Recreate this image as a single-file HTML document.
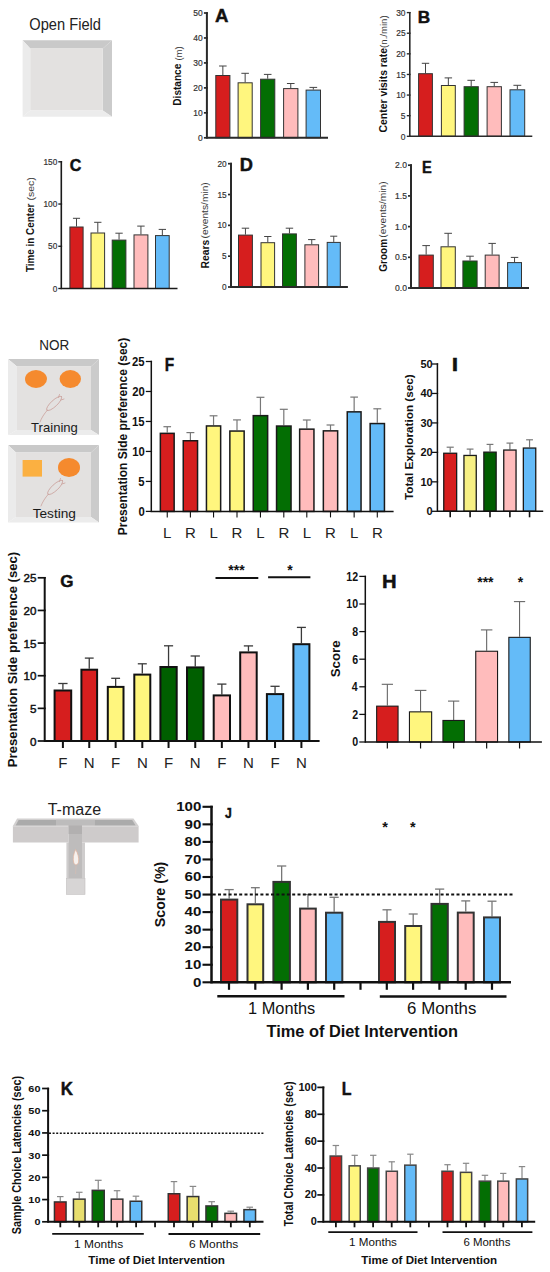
<!DOCTYPE html>
<html><head><meta charset="utf-8"><style>
html,body{margin:0;padding:0;background:#fff;}
body{width:550px;height:1272px;overflow:hidden;}
svg{display:block;font-family:"Liberation Sans",sans-serif;}
</style></head><body>
<svg width="550" height="1272" viewBox="0 0 550 1272">
<rect width="550" height="1272" fill="#fff"/>
<text x="29.31" y="30.00" font-size="15.8" font-weight="normal" fill="#222" textLength="71.63" lengthAdjust="spacingAndGlyphs">Open Field</text>
<polygon points="22.6,40.3 112,40.3 102.8,48.4 30.3,48.4" fill="#c9c9c9"/>
<polygon points="112,40.3 112,116.7 102.8,110.4 102.8,48.4" fill="#cbcbcb"/>
<polygon points="22.6,116.7 112,116.7 102.8,110.4 30.3,110.4" fill="#ececec"/>
<polygon points="22.6,40.3 30.3,48.4 30.3,110.4 22.6,116.7" fill="#ebebeb"/>
<rect x="30.3" y="48.4" width="72.5" height="62.00000000000001" fill="#e3e1e0"/>
<line x1="203.90" y1="137.80" x2="207.90" y2="137.80" stroke="#2a2a2a" stroke-width="1.7"/>
<text x="202.73" y="140.91" font-size="8.9" font-weight="normal" text-anchor="end" fill="#333" textLength="4.7" lengthAdjust="spacingAndGlyphs" stroke="#333" stroke-width="0.2">0</text>
<line x1="203.90" y1="112.84" x2="207.90" y2="112.84" stroke="#2a2a2a" stroke-width="1.7"/>
<text x="202.73" y="115.95" font-size="8.9" font-weight="normal" text-anchor="end" fill="#333" textLength="9.4" lengthAdjust="spacingAndGlyphs" stroke="#333" stroke-width="0.2">10</text>
<line x1="203.90" y1="87.88" x2="207.90" y2="87.88" stroke="#2a2a2a" stroke-width="1.7"/>
<text x="202.73" y="90.99" font-size="8.9" font-weight="normal" text-anchor="end" fill="#333" textLength="9.4" lengthAdjust="spacingAndGlyphs" stroke="#333" stroke-width="0.2">20</text>
<line x1="203.90" y1="62.92" x2="207.90" y2="62.92" stroke="#2a2a2a" stroke-width="1.7"/>
<text x="202.73" y="66.03" font-size="8.9" font-weight="normal" text-anchor="end" fill="#333" textLength="9.4" lengthAdjust="spacingAndGlyphs" stroke="#333" stroke-width="0.2">30</text>
<line x1="203.90" y1="37.96" x2="207.90" y2="37.96" stroke="#2a2a2a" stroke-width="1.7"/>
<text x="202.73" y="41.07" font-size="8.9" font-weight="normal" text-anchor="end" fill="#333" textLength="9.4" lengthAdjust="spacingAndGlyphs" stroke="#333" stroke-width="0.2">40</text>
<line x1="203.90" y1="13.00" x2="207.90" y2="13.00" stroke="#2a2a2a" stroke-width="1.7"/>
<text x="202.73" y="16.11" font-size="8.9" font-weight="normal" text-anchor="end" fill="#333" textLength="9.4" lengthAdjust="spacingAndGlyphs" stroke="#333" stroke-width="0.2">50</text>
<line x1="222.85" y1="75.00" x2="222.85" y2="66.00" stroke="#444" stroke-width="1"/>
<line x1="219.08" y1="66.00" x2="226.63" y2="66.00" stroke="#444" stroke-width="1"/>
<rect x="215.80" y="75.50" width="14.10" height="62.30" fill="#d61e1e" stroke="#333" stroke-width="1"/>
<line x1="245.15" y1="82.30" x2="245.15" y2="73.30" stroke="#444" stroke-width="1"/>
<line x1="241.37" y1="73.30" x2="248.92" y2="73.30" stroke="#444" stroke-width="1"/>
<rect x="238.10" y="82.80" width="14.10" height="55.00" fill="#fff67e" stroke="#333" stroke-width="1"/>
<line x1="267.70" y1="78.70" x2="267.70" y2="74.40" stroke="#444" stroke-width="1"/>
<line x1="263.90" y1="74.40" x2="271.50" y2="74.40" stroke="#444" stroke-width="1"/>
<rect x="260.60" y="79.20" width="14.20" height="58.60" fill="#036e03" stroke="#333" stroke-width="1"/>
<line x1="290.75" y1="88.10" x2="290.75" y2="83.50" stroke="#444" stroke-width="1"/>
<line x1="286.93" y1="83.50" x2="294.57" y2="83.50" stroke="#444" stroke-width="1"/>
<rect x="283.60" y="88.60" width="14.30" height="49.20" fill="#ffbcbc" stroke="#333" stroke-width="1"/>
<line x1="313.30" y1="89.60" x2="313.30" y2="87.40" stroke="#444" stroke-width="1"/>
<line x1="309.45" y1="87.40" x2="317.15" y2="87.40" stroke="#444" stroke-width="1"/>
<rect x="306.10" y="90.10" width="14.40" height="47.70" fill="#64bbf8" stroke="#333" stroke-width="1"/>
<path d="M206.90,12.15 V137.80 H328.00" fill="none" stroke="#2a2a2a" stroke-width="2" stroke-linecap="butt" stroke-linejoin="miter"/>
<text transform="translate(181.40,105.68) rotate(-90)" font-size="10.6" font-weight="bold" fill="#111" textLength="42.02" lengthAdjust="spacingAndGlyphs">Distance</text>
<text transform="translate(181.60,60.59) rotate(-90)" font-size="9.1" font-weight="normal" fill="#3a3a3a" textLength="14.17" lengthAdjust="spacingAndGlyphs">(m)</text>
<text x="215.03" y="21.90" font-size="19.2" font-weight="bold" fill="#111" textLength="13.45" lengthAdjust="spacingAndGlyphs" stroke="#111" stroke-width="0.45">A</text>
<line x1="406.80" y1="136.30" x2="410.60" y2="136.30" stroke="#2a2a2a" stroke-width="1.36"/>
<text x="405.53" y="139.55" font-size="9.3" font-weight="normal" text-anchor="end" fill="#333" textLength="4.7" lengthAdjust="spacingAndGlyphs" stroke="#333" stroke-width="0.2">0</text>
<line x1="406.80" y1="115.68" x2="410.60" y2="115.68" stroke="#2a2a2a" stroke-width="1.36"/>
<text x="405.55" y="118.93" font-size="9.3" font-weight="normal" text-anchor="end" fill="#333" textLength="4.7" lengthAdjust="spacingAndGlyphs" stroke="#333" stroke-width="0.2">5</text>
<line x1="406.80" y1="95.07" x2="410.60" y2="95.07" stroke="#2a2a2a" stroke-width="1.36"/>
<text x="405.53" y="98.31" font-size="9.3" font-weight="normal" text-anchor="end" fill="#333" textLength="9.3" lengthAdjust="spacingAndGlyphs" stroke="#333" stroke-width="0.2">10</text>
<line x1="406.80" y1="74.45" x2="410.60" y2="74.45" stroke="#2a2a2a" stroke-width="1.36"/>
<text x="405.55" y="77.70" font-size="9.3" font-weight="normal" text-anchor="end" fill="#333" textLength="9.3" lengthAdjust="spacingAndGlyphs" stroke="#333" stroke-width="0.2">15</text>
<line x1="406.80" y1="53.83" x2="410.60" y2="53.83" stroke="#2a2a2a" stroke-width="1.36"/>
<text x="405.53" y="57.08" font-size="9.3" font-weight="normal" text-anchor="end" fill="#333" textLength="9.3" lengthAdjust="spacingAndGlyphs" stroke="#333" stroke-width="0.2">20</text>
<line x1="406.80" y1="33.22" x2="410.60" y2="33.22" stroke="#2a2a2a" stroke-width="1.36"/>
<text x="405.55" y="36.46" font-size="9.3" font-weight="normal" text-anchor="end" fill="#333" textLength="9.3" lengthAdjust="spacingAndGlyphs" stroke="#333" stroke-width="0.2">25</text>
<line x1="406.80" y1="12.60" x2="410.60" y2="12.60" stroke="#2a2a2a" stroke-width="1.36"/>
<text x="405.53" y="15.85" font-size="9.3" font-weight="normal" text-anchor="end" fill="#333" textLength="9.3" lengthAdjust="spacingAndGlyphs" stroke="#333" stroke-width="0.2">30</text>
<line x1="425.50" y1="73.20" x2="425.50" y2="63.30" stroke="#444" stroke-width="1"/>
<line x1="421.80" y1="63.30" x2="429.20" y2="63.30" stroke="#444" stroke-width="1"/>
<rect x="418.60" y="73.70" width="13.80" height="62.60" fill="#d61e1e" stroke="#333" stroke-width="1"/>
<line x1="448.35" y1="85.00" x2="448.35" y2="77.90" stroke="#444" stroke-width="1"/>
<line x1="444.62" y1="77.90" x2="452.08" y2="77.90" stroke="#444" stroke-width="1"/>
<rect x="441.40" y="85.50" width="13.90" height="50.80" fill="#fff67e" stroke="#333" stroke-width="1"/>
<line x1="471.20" y1="86.20" x2="471.20" y2="80.30" stroke="#444" stroke-width="1"/>
<line x1="467.40" y1="80.30" x2="475.00" y2="80.30" stroke="#444" stroke-width="1"/>
<rect x="464.10" y="86.70" width="14.20" height="49.60" fill="#036e03" stroke="#333" stroke-width="1"/>
<line x1="494.25" y1="86.20" x2="494.25" y2="82.40" stroke="#444" stroke-width="1"/>
<line x1="490.43" y1="82.40" x2="498.07" y2="82.40" stroke="#444" stroke-width="1"/>
<rect x="487.10" y="86.70" width="14.30" height="49.60" fill="#ffbcbc" stroke="#333" stroke-width="1"/>
<line x1="517.35" y1="89.30" x2="517.35" y2="85.30" stroke="#444" stroke-width="1"/>
<line x1="513.42" y1="85.30" x2="521.28" y2="85.30" stroke="#444" stroke-width="1"/>
<rect x="510.00" y="89.80" width="14.70" height="46.50" fill="#64bbf8" stroke="#333" stroke-width="1"/>
<path d="M409.80,11.92 V136.30 H532.30" fill="none" stroke="#2a2a2a" stroke-width="1.6" stroke-linecap="butt" stroke-linejoin="miter"/>
<text transform="translate(387.40,132.43) rotate(-90)" font-size="10.2" font-weight="bold" fill="#111" textLength="84.38" lengthAdjust="spacingAndGlyphs">Center visits rate</text>
<text transform="translate(386.60,47.89) rotate(-90)" font-size="8.4" font-weight="normal" fill="#3a3a3a" textLength="32.49" lengthAdjust="spacingAndGlyphs">(n./min)</text>
<text x="417.85" y="23.00" font-size="16.6" font-weight="bold" fill="#111" textLength="12.43" lengthAdjust="spacingAndGlyphs" stroke="#111" stroke-width="0.45">B</text>
<line x1="58.30" y1="288.50" x2="62.10" y2="288.50" stroke="#1a1a1a" stroke-width="1.36"/>
<text x="57.32" y="291.64" font-size="9" font-weight="normal" text-anchor="end" fill="#333" textLength="4.6" lengthAdjust="spacingAndGlyphs" stroke="#333" stroke-width="0.2">0</text>
<line x1="58.30" y1="246.27" x2="62.10" y2="246.27" stroke="#1a1a1a" stroke-width="1.36"/>
<text x="57.32" y="249.41" font-size="9" font-weight="normal" text-anchor="end" fill="#333" textLength="9.2" lengthAdjust="spacingAndGlyphs" stroke="#333" stroke-width="0.2">50</text>
<line x1="58.30" y1="204.03" x2="62.10" y2="204.03" stroke="#1a1a1a" stroke-width="1.36"/>
<text x="57.32" y="207.17" font-size="9" font-weight="normal" text-anchor="end" fill="#333" textLength="13.8" lengthAdjust="spacingAndGlyphs" stroke="#333" stroke-width="0.2">100</text>
<line x1="58.30" y1="161.80" x2="62.10" y2="161.80" stroke="#1a1a1a" stroke-width="1.36"/>
<text x="57.32" y="164.94" font-size="9" font-weight="normal" text-anchor="end" fill="#333" textLength="13.8" lengthAdjust="spacingAndGlyphs" stroke="#333" stroke-width="0.2">150</text>
<line x1="76.50" y1="226.50" x2="76.50" y2="218.30" stroke="#444" stroke-width="1"/>
<line x1="72.95" y1="218.30" x2="80.05" y2="218.30" stroke="#444" stroke-width="1"/>
<rect x="69.90" y="227.00" width="13.20" height="61.50" fill="#d61e1e" stroke="#333" stroke-width="1"/>
<line x1="97.80" y1="232.50" x2="97.80" y2="222.30" stroke="#444" stroke-width="1"/>
<line x1="94.15" y1="222.30" x2="101.45" y2="222.30" stroke="#444" stroke-width="1"/>
<rect x="91.00" y="233.00" width="13.60" height="55.50" fill="#fff67e" stroke="#333" stroke-width="1"/>
<line x1="119.05" y1="239.60" x2="119.05" y2="233.20" stroke="#444" stroke-width="1"/>
<line x1="115.38" y1="233.20" x2="122.73" y2="233.20" stroke="#444" stroke-width="1"/>
<rect x="112.20" y="240.10" width="13.70" height="48.40" fill="#036e03" stroke="#333" stroke-width="1"/>
<line x1="140.95" y1="234.40" x2="140.95" y2="226.10" stroke="#444" stroke-width="1"/>
<line x1="137.22" y1="226.10" x2="144.67" y2="226.10" stroke="#444" stroke-width="1"/>
<rect x="134.00" y="234.90" width="13.90" height="53.60" fill="#ffbcbc" stroke="#333" stroke-width="1"/>
<line x1="162.35" y1="235.10" x2="162.35" y2="229.40" stroke="#444" stroke-width="1"/>
<line x1="158.68" y1="229.40" x2="166.02" y2="229.40" stroke="#444" stroke-width="1"/>
<rect x="155.50" y="235.60" width="13.70" height="52.90" fill="#64bbf8" stroke="#333" stroke-width="1"/>
<path d="M61.30,161.12 V288.50 H177.50" fill="none" stroke="#1a1a1a" stroke-width="1.6" stroke-linecap="butt" stroke-linejoin="miter"/>
<text transform="translate(34.30,272.11) rotate(-90)" font-size="11.3" font-weight="bold" fill="#111" textLength="68.56" lengthAdjust="spacingAndGlyphs">Time in Center</text>
<text transform="translate(34.20,200.45) rotate(-90)" font-size="8.8" font-weight="normal" fill="#3a3a3a" textLength="23.30" lengthAdjust="spacingAndGlyphs">(sec)</text>
<text x="69.74" y="170.60" font-size="16" font-weight="bold" fill="#111" textLength="11.59" lengthAdjust="spacingAndGlyphs" stroke="#111" stroke-width="0.45">C</text>
<line x1="228.00" y1="287.00" x2="232.00" y2="287.00" stroke="#2a2a2a" stroke-width="1.7"/>
<text x="226.62" y="290.14" font-size="9" font-weight="normal" text-anchor="end" fill="#333" textLength="4.6" lengthAdjust="spacingAndGlyphs" stroke="#333" stroke-width="0.2">0</text>
<line x1="228.00" y1="256.18" x2="232.00" y2="256.18" stroke="#2a2a2a" stroke-width="1.7"/>
<text x="226.65" y="259.32" font-size="9" font-weight="normal" text-anchor="end" fill="#333" textLength="4.6" lengthAdjust="spacingAndGlyphs" stroke="#333" stroke-width="0.2">5</text>
<line x1="228.00" y1="225.35" x2="232.00" y2="225.35" stroke="#2a2a2a" stroke-width="1.7"/>
<text x="226.62" y="228.49" font-size="9" font-weight="normal" text-anchor="end" fill="#333" textLength="9.2" lengthAdjust="spacingAndGlyphs" stroke="#333" stroke-width="0.2">10</text>
<line x1="228.00" y1="194.52" x2="232.00" y2="194.52" stroke="#2a2a2a" stroke-width="1.7"/>
<text x="226.65" y="197.67" font-size="9" font-weight="normal" text-anchor="end" fill="#333" textLength="9.2" lengthAdjust="spacingAndGlyphs" stroke="#333" stroke-width="0.2">15</text>
<line x1="228.00" y1="163.70" x2="232.00" y2="163.70" stroke="#2a2a2a" stroke-width="1.7"/>
<text x="226.62" y="166.84" font-size="9" font-weight="normal" text-anchor="end" fill="#333" textLength="9.2" lengthAdjust="spacingAndGlyphs" stroke="#333" stroke-width="0.2">20</text>
<line x1="245.45" y1="234.60" x2="245.45" y2="228.20" stroke="#444" stroke-width="1"/>
<line x1="241.72" y1="228.20" x2="249.17" y2="228.20" stroke="#444" stroke-width="1"/>
<rect x="238.50" y="235.10" width="13.90" height="51.90" fill="#d61e1e" stroke="#333" stroke-width="1"/>
<line x1="267.80" y1="242.20" x2="267.80" y2="236.50" stroke="#444" stroke-width="1"/>
<line x1="264.15" y1="236.50" x2="271.45" y2="236.50" stroke="#444" stroke-width="1"/>
<rect x="261.00" y="242.70" width="13.60" height="44.30" fill="#fff67e" stroke="#333" stroke-width="1"/>
<line x1="289.45" y1="233.40" x2="289.45" y2="228.20" stroke="#444" stroke-width="1"/>
<line x1="285.73" y1="228.20" x2="293.17" y2="228.20" stroke="#444" stroke-width="1"/>
<rect x="282.50" y="233.90" width="13.90" height="53.10" fill="#036e03" stroke="#333" stroke-width="1"/>
<line x1="311.75" y1="244.30" x2="311.75" y2="239.60" stroke="#444" stroke-width="1"/>
<line x1="308.07" y1="239.60" x2="315.43" y2="239.60" stroke="#444" stroke-width="1"/>
<rect x="304.90" y="244.80" width="13.70" height="42.20" fill="#ffbcbc" stroke="#333" stroke-width="1"/>
<line x1="333.75" y1="241.90" x2="333.75" y2="236.20" stroke="#444" stroke-width="1"/>
<line x1="330.23" y1="236.20" x2="337.27" y2="236.20" stroke="#444" stroke-width="1"/>
<rect x="327.20" y="242.40" width="13.10" height="44.60" fill="#64bbf8" stroke="#333" stroke-width="1"/>
<path d="M231.00,162.85 V287.00 H347.90" fill="none" stroke="#2a2a2a" stroke-width="2" stroke-linecap="butt" stroke-linejoin="miter"/>
<text transform="translate(209.10,268.39) rotate(-90)" font-size="10.8" font-weight="bold" fill="#111" textLength="28.61" lengthAdjust="spacingAndGlyphs">Rears</text>
<text transform="translate(208.20,238.43) rotate(-90)" font-size="8.2" font-weight="normal" fill="#3a3a3a" textLength="56.17" lengthAdjust="spacingAndGlyphs">(events/min)</text>
<text x="239.68" y="170.70" font-size="17.6" font-weight="bold" fill="#111" textLength="13.19" lengthAdjust="spacingAndGlyphs" stroke="#111" stroke-width="0.45">D</text>
<line x1="408.00" y1="288.00" x2="412.00" y2="288.00" stroke="#2a2a2a" stroke-width="1.7"/>
<text x="406.93" y="291.14" font-size="9" font-weight="normal" text-anchor="end" fill="#333" textLength="11.9" lengthAdjust="spacingAndGlyphs" stroke="#333" stroke-width="0.2">0.0</text>
<line x1="408.00" y1="257.30" x2="412.00" y2="257.30" stroke="#2a2a2a" stroke-width="1.7"/>
<text x="406.96" y="260.44" font-size="9" font-weight="normal" text-anchor="end" fill="#333" textLength="11.9" lengthAdjust="spacingAndGlyphs" stroke="#333" stroke-width="0.2">0.5</text>
<line x1="408.00" y1="226.60" x2="412.00" y2="226.60" stroke="#2a2a2a" stroke-width="1.7"/>
<text x="406.93" y="229.74" font-size="9" font-weight="normal" text-anchor="end" fill="#333" textLength="11.9" lengthAdjust="spacingAndGlyphs" stroke="#333" stroke-width="0.2">1.0</text>
<line x1="408.00" y1="195.90" x2="412.00" y2="195.90" stroke="#2a2a2a" stroke-width="1.7"/>
<text x="406.96" y="199.04" font-size="9" font-weight="normal" text-anchor="end" fill="#333" textLength="11.9" lengthAdjust="spacingAndGlyphs" stroke="#333" stroke-width="0.2">1.5</text>
<line x1="408.00" y1="165.20" x2="412.00" y2="165.20" stroke="#2a2a2a" stroke-width="1.7"/>
<text x="406.93" y="168.34" font-size="9" font-weight="normal" text-anchor="end" fill="#333" textLength="11.9" lengthAdjust="spacingAndGlyphs" stroke="#333" stroke-width="0.2">2.0</text>
<line x1="426.15" y1="254.60" x2="426.15" y2="245.60" stroke="#444" stroke-width="1"/>
<line x1="422.32" y1="245.60" x2="429.97" y2="245.60" stroke="#444" stroke-width="1"/>
<rect x="419.00" y="255.10" width="14.30" height="32.90" fill="#d61e1e" stroke="#333" stroke-width="1"/>
<line x1="448.15" y1="246.30" x2="448.15" y2="233.30" stroke="#444" stroke-width="1"/>
<line x1="444.32" y1="233.30" x2="451.97" y2="233.30" stroke="#444" stroke-width="1"/>
<rect x="441.00" y="246.80" width="14.30" height="41.20" fill="#fff67e" stroke="#333" stroke-width="1"/>
<line x1="470.00" y1="260.50" x2="470.00" y2="256.20" stroke="#444" stroke-width="1"/>
<line x1="466.20" y1="256.20" x2="473.80" y2="256.20" stroke="#444" stroke-width="1"/>
<rect x="462.90" y="261.00" width="14.20" height="27.00" fill="#036e03" stroke="#333" stroke-width="1"/>
<line x1="492.15" y1="254.60" x2="492.15" y2="243.40" stroke="#444" stroke-width="1"/>
<line x1="488.42" y1="243.40" x2="495.88" y2="243.40" stroke="#444" stroke-width="1"/>
<rect x="485.20" y="255.10" width="13.90" height="32.90" fill="#ffbcbc" stroke="#333" stroke-width="1"/>
<line x1="514.55" y1="262.10" x2="514.55" y2="257.40" stroke="#444" stroke-width="1"/>
<line x1="510.82" y1="257.40" x2="518.27" y2="257.40" stroke="#444" stroke-width="1"/>
<rect x="507.60" y="262.60" width="13.90" height="25.40" fill="#64bbf8" stroke="#333" stroke-width="1"/>
<path d="M411.00,164.35 V288.00 H529.00" fill="none" stroke="#2a2a2a" stroke-width="2" stroke-linecap="butt" stroke-linejoin="miter"/>
<text transform="translate(386.60,271.71) rotate(-90)" font-size="10.5" font-weight="bold" fill="#111" textLength="32.83" lengthAdjust="spacingAndGlyphs">Groom</text>
<text transform="translate(386.20,237.63) rotate(-90)" font-size="8.9" font-weight="normal" fill="#3a3a3a" textLength="56.27" lengthAdjust="spacingAndGlyphs">(events/min)</text>
<text x="421.92" y="172.50" font-size="17" font-weight="bold" fill="#111" textLength="9.75" lengthAdjust="spacingAndGlyphs" stroke="#111" stroke-width="0.45">E</text>
<text x="39.29" y="350.40" font-size="14" font-weight="normal" fill="#222" textLength="30.03" lengthAdjust="spacingAndGlyphs">NOR</text>
<polygon points="8,359 99,359 91,366.5 17,366.5" fill="#c9c9c9"/>
<polygon points="99,359 99,435 91,430 91,366.5" fill="#cbcbcb"/>
<polygon points="8,435 99,435 91,430 17,430" fill="#ececec"/>
<polygon points="8,359 17,366.5 17,430 8,435" fill="#ebebeb"/>
<rect x="17" y="366.5" width="74" height="63.5" fill="#e3e1e0"/>
<ellipse cx="36" cy="379" rx="11" ry="9" fill="#f58a2e"/>
<ellipse cx="70.3" cy="379" rx="10.7" ry="9" fill="#f58a2e"/>
<g transform="translate(40,422) scale(1.0)" fill="none" stroke="#c99d98" stroke-width="0.75" stroke-linecap="round"><path d="M0,0 C1.5,-4 4,-8 7.5,-12"/><ellipse cx="14.2" cy="-18.6" rx="10" ry="3.1" transform="rotate(-43 14.2 -18.6)"/><path d="M18.5,-24.5 L19.5,-27.5 M21,-22 L24,-23"/></g>
<text x="31.11" y="432.30" font-size="12.8" font-weight="normal" fill="#1a1a1a" textLength="46.73" lengthAdjust="spacingAndGlyphs">Training</text>
<polygon points="8,445 99,445 91,452.6 16,452.6" fill="#c9c9c9"/>
<polygon points="99,445 99,522.6 91,517 91,452.6" fill="#cbcbcb"/>
<polygon points="8,522.6 99,522.6 91,517 16,517" fill="#ececec"/>
<polygon points="8,445 16,452.6 16,517 8,522.6" fill="#ebebeb"/>
<rect x="16" y="452.6" width="75" height="64.39999999999998" fill="#e3e1e0"/>
<rect x="22.60" y="460.00" width="19.40" height="16.60" fill="#fbb041"/>
<ellipse cx="69" cy="467.5" rx="11" ry="9.5" fill="#f58a2e"/>
<g transform="translate(41,506) scale(1.0)" fill="none" stroke="#c99d98" stroke-width="0.75" stroke-linecap="round"><path d="M0,0 C1.5,-4 4,-8 7.5,-12"/><ellipse cx="14.2" cy="-18.6" rx="10" ry="3.1" transform="rotate(-43 14.2 -18.6)"/><path d="M18.5,-24.5 L19.5,-27.5 M21,-22 L24,-23"/></g>
<text x="32.70" y="518.30" font-size="13.2" font-weight="normal" fill="#1a1a1a" textLength="43.17" lengthAdjust="spacingAndGlyphs">Testing</text>
<line x1="145.80" y1="511.40" x2="152.05" y2="511.40" stroke="#111" stroke-width="1.275"/>
<text x="144.77" y="515.55" font-size="11.9" font-weight="bold" text-anchor="end" fill="#111" textLength="6.3" lengthAdjust="spacingAndGlyphs">0</text>
<line x1="145.80" y1="481.42" x2="152.05" y2="481.42" stroke="#111" stroke-width="1.275"/>
<text x="144.62" y="485.57" font-size="11.9" font-weight="bold" text-anchor="end" fill="#111" textLength="6.3" lengthAdjust="spacingAndGlyphs">5</text>
<line x1="145.80" y1="451.44" x2="152.05" y2="451.44" stroke="#111" stroke-width="1.275"/>
<text x="144.77" y="455.59" font-size="11.9" font-weight="bold" text-anchor="end" fill="#111" textLength="12.6" lengthAdjust="spacingAndGlyphs">10</text>
<line x1="145.80" y1="421.46" x2="152.05" y2="421.46" stroke="#111" stroke-width="1.275"/>
<text x="144.62" y="425.61" font-size="11.9" font-weight="bold" text-anchor="end" fill="#111" textLength="12.6" lengthAdjust="spacingAndGlyphs">15</text>
<line x1="145.80" y1="391.48" x2="152.05" y2="391.48" stroke="#111" stroke-width="1.275"/>
<text x="144.77" y="395.63" font-size="11.9" font-weight="bold" text-anchor="end" fill="#111" textLength="12.6" lengthAdjust="spacingAndGlyphs">20</text>
<line x1="145.80" y1="361.50" x2="152.05" y2="361.50" stroke="#111" stroke-width="1.275"/>
<text x="144.62" y="365.65" font-size="11.9" font-weight="bold" text-anchor="end" fill="#111" textLength="12.6" lengthAdjust="spacingAndGlyphs">25</text>
<line x1="167.25" y1="432.60" x2="167.25" y2="426.70" stroke="#777" stroke-width="1.2"/>
<line x1="163.43" y1="426.70" x2="171.07" y2="426.70" stroke="#777" stroke-width="1.2"/>
<rect x="160.35" y="433.35" width="13.80" height="78.05" fill="#d61e1e" stroke="#1a1a1a" stroke-width="1.5"/>
<line x1="190.40" y1="440.00" x2="190.40" y2="432.60" stroke="#777" stroke-width="1.2"/>
<line x1="186.45" y1="432.60" x2="194.35" y2="432.60" stroke="#777" stroke-width="1.2"/>
<rect x="183.25" y="440.75" width="14.30" height="70.65" fill="#d61e1e" stroke="#1a1a1a" stroke-width="1.5"/>
<line x1="213.55" y1="425.20" x2="213.55" y2="415.80" stroke="#777" stroke-width="1.2"/>
<line x1="209.62" y1="415.80" x2="217.48" y2="415.80" stroke="#777" stroke-width="1.2"/>
<rect x="206.45" y="425.95" width="14.20" height="85.45" fill="#fff67e" stroke="#1a1a1a" stroke-width="1.5"/>
<line x1="237.00" y1="430.30" x2="237.00" y2="419.90" stroke="#777" stroke-width="1.2"/>
<line x1="233.05" y1="419.90" x2="240.95" y2="419.90" stroke="#777" stroke-width="1.2"/>
<rect x="229.85" y="431.05" width="14.30" height="80.35" fill="#fff67e" stroke="#1a1a1a" stroke-width="1.5"/>
<line x1="260.45" y1="414.90" x2="260.45" y2="397.30" stroke="#777" stroke-width="1.2"/>
<line x1="256.48" y1="397.30" x2="264.42" y2="397.30" stroke="#777" stroke-width="1.2"/>
<rect x="253.25" y="415.65" width="14.40" height="95.75" fill="#036e03" stroke="#1a1a1a" stroke-width="1.5"/>
<line x1="283.80" y1="425.30" x2="283.80" y2="409.30" stroke="#777" stroke-width="1.2"/>
<line x1="279.80" y1="409.30" x2="287.80" y2="409.30" stroke="#777" stroke-width="1.2"/>
<rect x="276.55" y="426.05" width="14.50" height="85.35" fill="#036e03" stroke="#1a1a1a" stroke-width="1.5"/>
<line x1="306.80" y1="428.40" x2="306.80" y2="420.00" stroke="#777" stroke-width="1.2"/>
<line x1="302.85" y1="420.00" x2="310.75" y2="420.00" stroke="#777" stroke-width="1.2"/>
<rect x="299.65" y="429.15" width="14.30" height="82.25" fill="#ffbcbc" stroke="#1a1a1a" stroke-width="1.5"/>
<line x1="330.50" y1="430.10" x2="330.50" y2="425.00" stroke="#777" stroke-width="1.2"/>
<line x1="326.55" y1="425.00" x2="334.45" y2="425.00" stroke="#777" stroke-width="1.2"/>
<rect x="323.35" y="430.85" width="14.30" height="80.55" fill="#ffbcbc" stroke="#1a1a1a" stroke-width="1.5"/>
<line x1="354.15" y1="411.10" x2="354.15" y2="397.10" stroke="#777" stroke-width="1.2"/>
<line x1="350.32" y1="397.10" x2="357.97" y2="397.10" stroke="#777" stroke-width="1.2"/>
<rect x="347.25" y="411.85" width="13.80" height="99.55" fill="#64bbf8" stroke="#1a1a1a" stroke-width="1.5"/>
<line x1="377.30" y1="422.80" x2="377.30" y2="408.80" stroke="#777" stroke-width="1.2"/>
<line x1="373.35" y1="408.80" x2="381.25" y2="408.80" stroke="#777" stroke-width="1.2"/>
<rect x="370.15" y="423.55" width="14.30" height="87.85" fill="#64bbf8" stroke="#1a1a1a" stroke-width="1.5"/>
<line x1="167.25" y1="511.40" x2="167.25" y2="517.40" stroke="#111" stroke-width="1.1"/>
<line x1="190.40" y1="511.40" x2="190.40" y2="517.40" stroke="#111" stroke-width="1.1"/>
<line x1="213.55" y1="511.40" x2="213.55" y2="517.40" stroke="#111" stroke-width="1.1"/>
<line x1="237.00" y1="511.40" x2="237.00" y2="517.40" stroke="#111" stroke-width="1.1"/>
<line x1="260.45" y1="511.40" x2="260.45" y2="517.40" stroke="#111" stroke-width="1.1"/>
<line x1="283.80" y1="511.40" x2="283.80" y2="517.40" stroke="#111" stroke-width="1.1"/>
<line x1="306.80" y1="511.40" x2="306.80" y2="517.40" stroke="#111" stroke-width="1.1"/>
<line x1="330.50" y1="511.40" x2="330.50" y2="517.40" stroke="#111" stroke-width="1.1"/>
<line x1="354.15" y1="511.40" x2="354.15" y2="517.40" stroke="#111" stroke-width="1.1"/>
<line x1="377.30" y1="511.40" x2="377.30" y2="517.40" stroke="#111" stroke-width="1.1"/>
<path d="M151.30,360.86 V511.40 H393.60" fill="none" stroke="#111" stroke-width="1.5" stroke-linecap="butt" stroke-linejoin="miter"/>
<text x="167.25" y="537.80" font-size="15" font-weight="normal" text-anchor="middle" fill="#222">L</text>
<text x="190.40" y="537.80" font-size="15" font-weight="normal" text-anchor="middle" fill="#222">R</text>
<text x="213.55" y="537.80" font-size="15" font-weight="normal" text-anchor="middle" fill="#222">L</text>
<text x="237.00" y="537.80" font-size="15" font-weight="normal" text-anchor="middle" fill="#222">R</text>
<text x="260.45" y="537.80" font-size="15" font-weight="normal" text-anchor="middle" fill="#222">L</text>
<text x="283.80" y="537.80" font-size="15" font-weight="normal" text-anchor="middle" fill="#222">R</text>
<text x="306.80" y="537.80" font-size="15" font-weight="normal" text-anchor="middle" fill="#222">L</text>
<text x="330.50" y="537.80" font-size="15" font-weight="normal" text-anchor="middle" fill="#222">R</text>
<text x="354.15" y="537.80" font-size="15" font-weight="normal" text-anchor="middle" fill="#222">L</text>
<text x="377.30" y="537.80" font-size="15" font-weight="normal" text-anchor="middle" fill="#222">R</text>
<text transform="translate(127.30,535.30) rotate(-90)" font-size="12.6" font-weight="bold" fill="#111" textLength="197.61" lengthAdjust="spacingAndGlyphs">Presentation Side preference (sec)</text>
<text x="164.87" y="371.30" font-size="18" font-weight="bold" fill="#111" textLength="9.40" lengthAdjust="spacingAndGlyphs" stroke="#111" stroke-width="0.45">F</text>
<line x1="431.90" y1="511.30" x2="438.15" y2="511.30" stroke="#111" stroke-width="1.275"/>
<text x="432.65" y="515.31" font-size="11.5" font-weight="bold" text-anchor="end" fill="#111" textLength="6.1" lengthAdjust="spacingAndGlyphs">0</text>
<line x1="431.90" y1="481.84" x2="438.15" y2="481.84" stroke="#111" stroke-width="1.275"/>
<text x="432.65" y="485.85" font-size="11.5" font-weight="bold" text-anchor="end" fill="#111" textLength="12.2" lengthAdjust="spacingAndGlyphs">10</text>
<line x1="431.90" y1="452.38" x2="438.15" y2="452.38" stroke="#111" stroke-width="1.275"/>
<text x="432.65" y="456.39" font-size="11.5" font-weight="bold" text-anchor="end" fill="#111" textLength="12.2" lengthAdjust="spacingAndGlyphs">20</text>
<line x1="431.90" y1="422.92" x2="438.15" y2="422.92" stroke="#111" stroke-width="1.275"/>
<text x="432.65" y="426.93" font-size="11.5" font-weight="bold" text-anchor="end" fill="#111" textLength="12.2" lengthAdjust="spacingAndGlyphs">30</text>
<line x1="431.90" y1="393.46" x2="438.15" y2="393.46" stroke="#111" stroke-width="1.275"/>
<text x="432.65" y="397.47" font-size="11.5" font-weight="bold" text-anchor="end" fill="#111" textLength="12.2" lengthAdjust="spacingAndGlyphs">40</text>
<line x1="431.90" y1="364.00" x2="438.15" y2="364.00" stroke="#111" stroke-width="1.275"/>
<text x="432.65" y="368.01" font-size="11.5" font-weight="bold" text-anchor="end" fill="#111" textLength="12.2" lengthAdjust="spacingAndGlyphs">50</text>
<line x1="450.20" y1="452.60" x2="450.20" y2="447.20" stroke="#777" stroke-width="1.2"/>
<line x1="446.65" y1="447.20" x2="453.75" y2="447.20" stroke="#777" stroke-width="1.2"/>
<rect x="443.75" y="453.25" width="12.90" height="58.05" fill="#d61e1e" stroke="#1a1a1a" stroke-width="1.3"/>
<line x1="470.10" y1="454.80" x2="470.10" y2="449.10" stroke="#777" stroke-width="1.2"/>
<line x1="466.70" y1="449.10" x2="473.50" y2="449.10" stroke="#777" stroke-width="1.2"/>
<rect x="463.95" y="455.45" width="12.30" height="55.85" fill="#f7f084" stroke="#1a1a1a" stroke-width="1.3"/>
<line x1="490.00" y1="451.50" x2="490.00" y2="444.40" stroke="#777" stroke-width="1.2"/>
<line x1="486.60" y1="444.40" x2="493.40" y2="444.40" stroke="#777" stroke-width="1.2"/>
<rect x="483.85" y="452.15" width="12.30" height="59.15" fill="#005d00" stroke="#1a1a1a" stroke-width="1.3"/>
<line x1="509.90" y1="449.40" x2="509.90" y2="443.10" stroke="#777" stroke-width="1.2"/>
<line x1="506.50" y1="443.10" x2="513.30" y2="443.10" stroke="#777" stroke-width="1.2"/>
<rect x="503.75" y="450.05" width="12.30" height="61.25" fill="#ffbcbc" stroke="#1a1a1a" stroke-width="1.3"/>
<line x1="529.55" y1="447.40" x2="529.55" y2="439.80" stroke="#777" stroke-width="1.2"/>
<line x1="526.12" y1="439.80" x2="532.97" y2="439.80" stroke="#777" stroke-width="1.2"/>
<rect x="523.35" y="448.05" width="12.40" height="63.25" fill="#64bbf8" stroke="#1a1a1a" stroke-width="1.3"/>
<line x1="450.20" y1="511.30" x2="450.20" y2="517.30" stroke="#111" stroke-width="1.6"/>
<line x1="470.10" y1="511.30" x2="470.10" y2="517.30" stroke="#111" stroke-width="1.6"/>
<line x1="490.00" y1="511.30" x2="490.00" y2="517.30" stroke="#111" stroke-width="1.6"/>
<line x1="509.90" y1="511.30" x2="509.90" y2="517.30" stroke="#111" stroke-width="1.6"/>
<line x1="529.55" y1="511.30" x2="529.55" y2="517.30" stroke="#111" stroke-width="1.6"/>
<path d="M437.40,363.36 V511.30 H543.20" fill="none" stroke="#111" stroke-width="1.5" stroke-linecap="butt" stroke-linejoin="miter"/>
<text transform="translate(413.30,500.03) rotate(-90)" font-size="10.7" font-weight="bold" fill="#111" textLength="125.82" lengthAdjust="spacingAndGlyphs">Total Exploration (sec)</text>
<text x="451.66" y="371.40" font-size="18.7" font-weight="bold" fill="#111" textLength="6.37" lengthAdjust="spacingAndGlyphs" stroke="#111" stroke-width="0.45">I</text>
<line x1="37.70" y1="741.00" x2="45.70" y2="741.00" stroke="#111" stroke-width="1.7"/>
<text x="36.45" y="745.55" font-size="11.6" font-weight="normal" text-anchor="end" fill="#111" textLength="6.5" lengthAdjust="spacingAndGlyphs" stroke="#111" stroke-width="0.45">0</text>
<line x1="37.70" y1="708.36" x2="45.70" y2="708.36" stroke="#111" stroke-width="1.7"/>
<text x="36.49" y="712.91" font-size="11.6" font-weight="normal" text-anchor="end" fill="#111" textLength="6.5" lengthAdjust="spacingAndGlyphs" stroke="#111" stroke-width="0.45">5</text>
<line x1="37.70" y1="675.72" x2="45.70" y2="675.72" stroke="#111" stroke-width="1.7"/>
<text x="36.45" y="680.27" font-size="11.6" font-weight="normal" text-anchor="end" fill="#111" textLength="12.9" lengthAdjust="spacingAndGlyphs" stroke="#111" stroke-width="0.45">10</text>
<line x1="37.70" y1="643.08" x2="45.70" y2="643.08" stroke="#111" stroke-width="1.7"/>
<text x="36.49" y="647.63" font-size="11.6" font-weight="normal" text-anchor="end" fill="#111" textLength="12.9" lengthAdjust="spacingAndGlyphs" stroke="#111" stroke-width="0.45">15</text>
<line x1="37.70" y1="610.44" x2="45.70" y2="610.44" stroke="#111" stroke-width="1.7"/>
<text x="36.45" y="614.99" font-size="11.6" font-weight="normal" text-anchor="end" fill="#111" textLength="12.9" lengthAdjust="spacingAndGlyphs" stroke="#111" stroke-width="0.45">20</text>
<line x1="37.70" y1="577.80" x2="45.70" y2="577.80" stroke="#111" stroke-width="1.7"/>
<text x="36.49" y="582.35" font-size="11.6" font-weight="normal" text-anchor="end" fill="#111" textLength="12.9" lengthAdjust="spacingAndGlyphs" stroke="#111" stroke-width="0.45">25</text>
<line x1="62.90" y1="689.50" x2="62.90" y2="683.50" stroke="#3a3a3a" stroke-width="1.3"/>
<line x1="58.25" y1="683.50" x2="67.55" y2="683.50" stroke="#3a3a3a" stroke-width="1.3"/>
<rect x="54.60" y="690.50" width="16.60" height="50.50" fill="#d61e1e" stroke="#111" stroke-width="2"/>
<line x1="89.25" y1="668.70" x2="89.25" y2="658.10" stroke="#3a3a3a" stroke-width="1.3"/>
<line x1="84.83" y1="658.10" x2="93.67" y2="658.10" stroke="#3a3a3a" stroke-width="1.3"/>
<rect x="81.40" y="669.70" width="15.70" height="71.30" fill="#d61e1e" stroke="#111" stroke-width="2"/>
<line x1="115.65" y1="685.90" x2="115.65" y2="678.30" stroke="#3a3a3a" stroke-width="1.3"/>
<line x1="111.23" y1="678.30" x2="120.08" y2="678.30" stroke="#3a3a3a" stroke-width="1.3"/>
<rect x="107.80" y="686.90" width="15.70" height="54.10" fill="#fff67e" stroke="#111" stroke-width="2"/>
<line x1="142.30" y1="673.60" x2="142.30" y2="663.80" stroke="#3a3a3a" stroke-width="1.3"/>
<line x1="137.80" y1="663.80" x2="146.80" y2="663.80" stroke="#3a3a3a" stroke-width="1.3"/>
<rect x="134.30" y="674.60" width="16.00" height="66.40" fill="#fff67e" stroke="#111" stroke-width="2"/>
<line x1="168.55" y1="666.00" x2="168.55" y2="645.80" stroke="#3a3a3a" stroke-width="1.3"/>
<line x1="163.98" y1="645.80" x2="173.12" y2="645.80" stroke="#3a3a3a" stroke-width="1.3"/>
<rect x="160.40" y="667.00" width="16.30" height="74.00" fill="#005f00" stroke="#111" stroke-width="2"/>
<line x1="195.25" y1="666.40" x2="195.25" y2="656.00" stroke="#3a3a3a" stroke-width="1.3"/>
<line x1="190.62" y1="656.00" x2="199.88" y2="656.00" stroke="#3a3a3a" stroke-width="1.3"/>
<rect x="187.00" y="667.40" width="16.50" height="73.60" fill="#005f00" stroke="#111" stroke-width="2"/>
<line x1="221.85" y1="694.40" x2="221.85" y2="684.10" stroke="#3a3a3a" stroke-width="1.3"/>
<line x1="217.27" y1="684.10" x2="226.43" y2="684.10" stroke="#3a3a3a" stroke-width="1.3"/>
<rect x="213.70" y="695.40" width="16.30" height="45.60" fill="#ffbcbc" stroke="#111" stroke-width="2"/>
<line x1="248.45" y1="651.40" x2="248.45" y2="645.90" stroke="#3a3a3a" stroke-width="1.3"/>
<line x1="243.82" y1="645.90" x2="253.07" y2="645.90" stroke="#3a3a3a" stroke-width="1.3"/>
<rect x="240.20" y="652.40" width="16.50" height="88.60" fill="#ffbcbc" stroke="#111" stroke-width="2"/>
<line x1="275.05" y1="693.10" x2="275.05" y2="686.30" stroke="#3a3a3a" stroke-width="1.3"/>
<line x1="270.47" y1="686.30" x2="279.62" y2="686.30" stroke="#3a3a3a" stroke-width="1.3"/>
<rect x="266.90" y="694.10" width="16.30" height="46.90" fill="#64bbf8" stroke="#111" stroke-width="2"/>
<line x1="301.40" y1="643.20" x2="301.40" y2="627.40" stroke="#3a3a3a" stroke-width="1.3"/>
<line x1="296.90" y1="627.40" x2="305.90" y2="627.40" stroke="#3a3a3a" stroke-width="1.3"/>
<rect x="293.40" y="644.20" width="16.00" height="96.80" fill="#64bbf8" stroke="#111" stroke-width="2"/>
<line x1="62.90" y1="741.00" x2="62.90" y2="748.00" stroke="#111" stroke-width="2"/>
<line x1="89.25" y1="741.00" x2="89.25" y2="748.00" stroke="#111" stroke-width="2"/>
<line x1="115.65" y1="741.00" x2="115.65" y2="748.00" stroke="#111" stroke-width="2"/>
<line x1="142.30" y1="741.00" x2="142.30" y2="748.00" stroke="#111" stroke-width="2"/>
<line x1="168.55" y1="741.00" x2="168.55" y2="748.00" stroke="#111" stroke-width="2"/>
<line x1="195.25" y1="741.00" x2="195.25" y2="748.00" stroke="#111" stroke-width="2"/>
<line x1="221.85" y1="741.00" x2="221.85" y2="748.00" stroke="#111" stroke-width="2"/>
<line x1="248.45" y1="741.00" x2="248.45" y2="748.00" stroke="#111" stroke-width="2"/>
<line x1="275.05" y1="741.00" x2="275.05" y2="748.00" stroke="#111" stroke-width="2"/>
<line x1="301.40" y1="741.00" x2="301.40" y2="748.00" stroke="#111" stroke-width="2"/>
<path d="M44.70,576.95 V741.00 H319.60" fill="none" stroke="#111" stroke-width="2" stroke-linecap="butt" stroke-linejoin="miter"/>
<text x="62.90" y="767.70" font-size="15" font-weight="normal" text-anchor="middle" fill="#222">F</text>
<text x="89.25" y="767.70" font-size="15" font-weight="normal" text-anchor="middle" fill="#222">N</text>
<text x="115.65" y="767.70" font-size="15" font-weight="normal" text-anchor="middle" fill="#222">F</text>
<text x="142.30" y="767.70" font-size="15" font-weight="normal" text-anchor="middle" fill="#222">N</text>
<text x="168.55" y="767.70" font-size="15" font-weight="normal" text-anchor="middle" fill="#222">F</text>
<text x="195.25" y="767.70" font-size="15" font-weight="normal" text-anchor="middle" fill="#222">N</text>
<text x="221.85" y="767.70" font-size="15" font-weight="normal" text-anchor="middle" fill="#222">F</text>
<text x="248.45" y="767.70" font-size="15" font-weight="normal" text-anchor="middle" fill="#222">N</text>
<text x="275.05" y="767.70" font-size="15" font-weight="normal" text-anchor="middle" fill="#222">F</text>
<text x="301.40" y="767.70" font-size="15" font-weight="normal" text-anchor="middle" fill="#222">N</text>
<line x1="215.50" y1="578.00" x2="258.30" y2="578.00" stroke="#111" stroke-width="2"/>
<line x1="268.10" y1="577.20" x2="310.40" y2="577.20" stroke="#111" stroke-width="2"/>
<text x="236.50" y="575.30" font-size="14" font-weight="bold" text-anchor="middle" fill="#111">***</text>
<text x="290.00" y="575.30" font-size="14" font-weight="bold" text-anchor="middle" fill="#111">*</text>
<text transform="translate(16.80,767.18) rotate(-90)" font-size="13.4" font-weight="bold" fill="#111" textLength="215.33" lengthAdjust="spacingAndGlyphs">Presentation Side preference (sec)</text>
<text x="60.20" y="587.20" font-size="16.7" font-weight="bold" fill="#111" textLength="13.25" lengthAdjust="spacingAndGlyphs" stroke="#111" stroke-width="0.45">G</text>
<line x1="359.30" y1="742.00" x2="366.05" y2="742.00" stroke="#111" stroke-width="1.275"/>
<text x="358.14" y="746.36" font-size="12.5" font-weight="bold" text-anchor="end" fill="#111" textLength="5.9" lengthAdjust="spacingAndGlyphs">0</text>
<line x1="359.30" y1="714.40" x2="366.05" y2="714.40" stroke="#111" stroke-width="1.275"/>
<text x="358.13" y="718.76" font-size="12.5" font-weight="bold" text-anchor="end" fill="#111" textLength="5.9" lengthAdjust="spacingAndGlyphs">2</text>
<line x1="359.30" y1="686.80" x2="366.05" y2="686.80" stroke="#111" stroke-width="1.275"/>
<text x="357.75" y="691.16" font-size="12.5" font-weight="bold" text-anchor="end" fill="#111" textLength="5.9" lengthAdjust="spacingAndGlyphs">4</text>
<line x1="359.30" y1="659.20" x2="366.05" y2="659.20" stroke="#111" stroke-width="1.275"/>
<text x="358.08" y="663.56" font-size="12.5" font-weight="bold" text-anchor="end" fill="#111" textLength="5.9" lengthAdjust="spacingAndGlyphs">6</text>
<line x1="359.30" y1="631.60" x2="366.05" y2="631.60" stroke="#111" stroke-width="1.275"/>
<text x="358.03" y="635.96" font-size="12.5" font-weight="bold" text-anchor="end" fill="#111" textLength="5.9" lengthAdjust="spacingAndGlyphs">8</text>
<line x1="359.30" y1="604.00" x2="366.05" y2="604.00" stroke="#111" stroke-width="1.275"/>
<text x="358.14" y="608.36" font-size="12.5" font-weight="bold" text-anchor="end" fill="#111" textLength="11.8" lengthAdjust="spacingAndGlyphs">10</text>
<line x1="359.30" y1="576.40" x2="366.05" y2="576.40" stroke="#111" stroke-width="1.275"/>
<text x="358.13" y="580.76" font-size="12.5" font-weight="bold" text-anchor="end" fill="#111" textLength="11.8" lengthAdjust="spacingAndGlyphs">12</text>
<line x1="387.35" y1="705.60" x2="387.35" y2="684.30" stroke="#666" stroke-width="1.1"/>
<line x1="381.73" y1="684.30" x2="392.98" y2="684.30" stroke="#666" stroke-width="1.1"/>
<rect x="376.65" y="706.15" width="21.40" height="35.85" fill="#d61e1e" stroke="#1a1a1a" stroke-width="1.1"/>
<line x1="420.55" y1="711.30" x2="420.55" y2="690.40" stroke="#666" stroke-width="1.1"/>
<line x1="414.72" y1="690.40" x2="426.37" y2="690.40" stroke="#666" stroke-width="1.1"/>
<rect x="409.45" y="711.85" width="22.20" height="30.15" fill="#fff67e" stroke="#1a1a1a" stroke-width="1.1"/>
<line x1="453.65" y1="719.90" x2="453.65" y2="701.10" stroke="#666" stroke-width="1.1"/>
<line x1="448.02" y1="701.10" x2="459.27" y2="701.10" stroke="#666" stroke-width="1.1"/>
<rect x="442.95" y="720.45" width="21.40" height="21.55" fill="#036e03" stroke="#1a1a1a" stroke-width="1.1"/>
<line x1="486.65" y1="650.70" x2="486.65" y2="629.90" stroke="#666" stroke-width="1.1"/>
<line x1="480.92" y1="629.90" x2="492.38" y2="629.90" stroke="#666" stroke-width="1.1"/>
<rect x="475.75" y="651.25" width="21.80" height="90.75" fill="#ffbcbc" stroke="#1a1a1a" stroke-width="1.1"/>
<line x1="519.55" y1="636.80" x2="519.55" y2="601.60" stroke="#666" stroke-width="1.1"/>
<line x1="513.92" y1="601.60" x2="525.17" y2="601.60" stroke="#666" stroke-width="1.1"/>
<rect x="508.85" y="637.35" width="21.40" height="104.65" fill="#64bbf8" stroke="#1a1a1a" stroke-width="1.1"/>
<line x1="387.35" y1="742.00" x2="387.35" y2="748.50" stroke="#111" stroke-width="1.2"/>
<line x1="420.55" y1="742.00" x2="420.55" y2="748.50" stroke="#111" stroke-width="1.2"/>
<line x1="453.65" y1="742.00" x2="453.65" y2="748.50" stroke="#111" stroke-width="1.2"/>
<line x1="486.65" y1="742.00" x2="486.65" y2="748.50" stroke="#111" stroke-width="1.2"/>
<line x1="519.55" y1="742.00" x2="519.55" y2="748.50" stroke="#111" stroke-width="1.2"/>
<path d="M365.30,575.76 V742.00 H541.90" fill="none" stroke="#111" stroke-width="1.5" stroke-linecap="butt" stroke-linejoin="miter"/>
<text x="485.40" y="587.30" font-size="14" font-weight="bold" text-anchor="middle" fill="#111">***</text>
<text x="520.60" y="587.30" font-size="14" font-weight="bold" text-anchor="middle" fill="#111">*</text>
<text transform="translate(340.00,677.28) rotate(-90)" font-size="12.6" font-weight="bold" fill="#111" textLength="36.84" lengthAdjust="spacingAndGlyphs">Score</text>
<text x="382.14" y="587.70" font-size="17.7" font-weight="bold" fill="#111" textLength="14.62" lengthAdjust="spacingAndGlyphs" stroke="#111" stroke-width="0.45">H</text>
<text x="47.65" y="814.70" font-size="16.9" font-weight="normal" fill="#222" textLength="53.46" lengthAdjust="spacingAndGlyphs">T-maze</text>
<polygon points="17.1,818.6 133.5,818.6 138.6,826 12.9,826" fill="#d2d0d0"/>
<polygon points="18.6,819.9 56,819.9 56,825.4 15.6,825.4" fill="#ababab"/>
<rect x="56" y="819.9" width="38.7" height="5.5" fill="#bdbcbc"/>
<polygon points="94.7,819.9 132.2,819.9 135.6,825.4 94.7,825.4" fill="#ababab"/>
<rect x="12.9" y="826" width="55.7" height="16.5" fill="#cecbcb"/>
<rect x="82" y="826" width="56.6" height="16.5" fill="#cecbcb"/>
<line x1="12.9" y1="826.3" x2="68.6" y2="826.3" stroke="#dedcdc" stroke-width="0.8"/>
<line x1="82" y1="826.3" x2="138.6" y2="826.3" stroke="#dedcdc" stroke-width="0.8"/>
<rect x="66.4" y="842.5" width="18.6" height="36" fill="#cfcdcd"/>
<rect x="68.6" y="825.4" width="13.4" height="53" fill="#bebcbc"/>
<rect x="68.6" y="825.4" width="13.4" height="8.6" fill="#b2b0b0"/>
<rect x="66.4" y="878.4" width="18.6" height="16" fill="#d7d5d5" stroke="#c2c0c0" stroke-width="0.6"/>
<path d="M75.6,849.5 C73.4,854 72.6,859 73.8,863 C74.8,865.5 77.8,865.5 78.6,862 C79.2,858 77.8,853 75.6,849.5 Z" fill="#f6f1ee" stroke="#e2b39c" stroke-width="0.7"/>
<path d="M76,865.5 L75.6,874" stroke="#d9bcb0" stroke-width="0.6"/>
<line x1="202.50" y1="982.30" x2="212.75" y2="982.30" stroke="#111" stroke-width="2.125"/>
<text x="201.42" y="986.56" font-size="12.2" font-weight="bold" text-anchor="end" fill="#111" textLength="8.4" lengthAdjust="spacingAndGlyphs">0</text>
<line x1="202.50" y1="964.75" x2="212.75" y2="964.75" stroke="#111" stroke-width="2.125"/>
<text x="201.42" y="969.01" font-size="12.2" font-weight="bold" text-anchor="end" fill="#111" textLength="16.8" lengthAdjust="spacingAndGlyphs">10</text>
<line x1="202.50" y1="947.20" x2="212.75" y2="947.20" stroke="#111" stroke-width="2.125"/>
<text x="201.42" y="951.46" font-size="12.2" font-weight="bold" text-anchor="end" fill="#111" textLength="16.8" lengthAdjust="spacingAndGlyphs">20</text>
<line x1="202.50" y1="929.65" x2="212.75" y2="929.65" stroke="#111" stroke-width="2.125"/>
<text x="201.42" y="933.91" font-size="12.2" font-weight="bold" text-anchor="end" fill="#111" textLength="16.8" lengthAdjust="spacingAndGlyphs">30</text>
<line x1="202.50" y1="912.10" x2="212.75" y2="912.10" stroke="#111" stroke-width="2.125"/>
<text x="201.42" y="916.36" font-size="12.2" font-weight="bold" text-anchor="end" fill="#111" textLength="16.8" lengthAdjust="spacingAndGlyphs">40</text>
<line x1="202.50" y1="894.55" x2="212.75" y2="894.55" stroke="#111" stroke-width="2.125"/>
<text x="201.42" y="898.81" font-size="12.2" font-weight="bold" text-anchor="end" fill="#111" textLength="16.8" lengthAdjust="spacingAndGlyphs">50</text>
<line x1="202.50" y1="877.00" x2="212.75" y2="877.00" stroke="#111" stroke-width="2.125"/>
<text x="201.42" y="881.26" font-size="12.2" font-weight="bold" text-anchor="end" fill="#111" textLength="16.8" lengthAdjust="spacingAndGlyphs">60</text>
<line x1="202.50" y1="859.45" x2="212.75" y2="859.45" stroke="#111" stroke-width="2.125"/>
<text x="201.42" y="863.71" font-size="12.2" font-weight="bold" text-anchor="end" fill="#111" textLength="16.8" lengthAdjust="spacingAndGlyphs">70</text>
<line x1="202.50" y1="841.90" x2="212.75" y2="841.90" stroke="#111" stroke-width="2.125"/>
<text x="201.42" y="846.16" font-size="12.2" font-weight="bold" text-anchor="end" fill="#111" textLength="16.8" lengthAdjust="spacingAndGlyphs">80</text>
<line x1="202.50" y1="824.35" x2="212.75" y2="824.35" stroke="#111" stroke-width="2.125"/>
<text x="201.42" y="828.61" font-size="12.2" font-weight="bold" text-anchor="end" fill="#111" textLength="16.8" lengthAdjust="spacingAndGlyphs">90</text>
<line x1="202.50" y1="806.80" x2="212.75" y2="806.80" stroke="#111" stroke-width="2.125"/>
<text x="201.42" y="811.06" font-size="12.2" font-weight="bold" text-anchor="end" fill="#111" textLength="25.2" lengthAdjust="spacingAndGlyphs">100</text>
<line x1="229.15" y1="898.60" x2="229.15" y2="889.60" stroke="#777" stroke-width="1.3"/>
<line x1="224.57" y1="889.60" x2="233.73" y2="889.60" stroke="#777" stroke-width="1.3"/>
<rect x="221.00" y="899.60" width="16.30" height="82.70" fill="#d61e1e" stroke="#333" stroke-width="2"/>
<line x1="255.35" y1="903.30" x2="255.35" y2="887.70" stroke="#777" stroke-width="1.3"/>
<line x1="250.93" y1="887.70" x2="259.77" y2="887.70" stroke="#777" stroke-width="1.3"/>
<rect x="247.50" y="904.30" width="15.70" height="78.00" fill="#fff67e" stroke="#333" stroke-width="2"/>
<line x1="281.65" y1="880.90" x2="281.65" y2="866.00" stroke="#777" stroke-width="1.3"/>
<line x1="277.02" y1="866.00" x2="286.27" y2="866.00" stroke="#777" stroke-width="1.3"/>
<rect x="273.40" y="881.90" width="16.50" height="100.40" fill="#036e03" stroke="#333" stroke-width="2"/>
<line x1="307.95" y1="907.60" x2="307.95" y2="894.50" stroke="#777" stroke-width="1.3"/>
<line x1="303.53" y1="894.50" x2="312.38" y2="894.50" stroke="#777" stroke-width="1.3"/>
<rect x="300.10" y="908.60" width="15.70" height="73.70" fill="#ffbcbc" stroke="#333" stroke-width="2"/>
<line x1="334.15" y1="911.70" x2="334.15" y2="897.30" stroke="#777" stroke-width="1.3"/>
<line x1="329.57" y1="897.30" x2="338.72" y2="897.30" stroke="#777" stroke-width="1.3"/>
<rect x="326.00" y="912.70" width="16.30" height="69.60" fill="#64bbf8" stroke="#333" stroke-width="2"/>
<line x1="387.00" y1="920.90" x2="387.00" y2="909.80" stroke="#777" stroke-width="1.3"/>
<line x1="382.50" y1="909.80" x2="391.50" y2="909.80" stroke="#777" stroke-width="1.3"/>
<rect x="379.00" y="921.90" width="16.00" height="60.40" fill="#d61e1e" stroke="#333" stroke-width="2"/>
<line x1="413.20" y1="925.00" x2="413.20" y2="914.00" stroke="#777" stroke-width="1.3"/>
<line x1="408.70" y1="914.00" x2="417.70" y2="914.00" stroke="#777" stroke-width="1.3"/>
<rect x="405.20" y="926.00" width="16.00" height="56.30" fill="#fff67e" stroke="#333" stroke-width="2"/>
<line x1="439.65" y1="902.90" x2="439.65" y2="889.10" stroke="#777" stroke-width="1.3"/>
<line x1="435.07" y1="889.10" x2="444.22" y2="889.10" stroke="#777" stroke-width="1.3"/>
<rect x="431.50" y="903.90" width="16.30" height="78.40" fill="#036e03" stroke="#333" stroke-width="2"/>
<line x1="465.75" y1="911.60" x2="465.75" y2="900.90" stroke="#777" stroke-width="1.3"/>
<line x1="461.27" y1="900.90" x2="470.23" y2="900.90" stroke="#777" stroke-width="1.3"/>
<rect x="457.80" y="912.60" width="15.90" height="69.70" fill="#ffbcbc" stroke="#333" stroke-width="2"/>
<line x1="492.00" y1="916.40" x2="492.00" y2="901.20" stroke="#777" stroke-width="1.3"/>
<line x1="487.50" y1="901.20" x2="496.50" y2="901.20" stroke="#777" stroke-width="1.3"/>
<rect x="484.00" y="917.40" width="16.00" height="64.90" fill="#64bbf8" stroke="#333" stroke-width="2"/>
<line x1="229.00" y1="982.30" x2="229.00" y2="989.80" stroke="#111" stroke-width="2.2"/>
<line x1="255.30" y1="982.30" x2="255.30" y2="989.80" stroke="#111" stroke-width="2.2"/>
<line x1="281.60" y1="982.30" x2="281.60" y2="989.80" stroke="#111" stroke-width="2.2"/>
<line x1="307.90" y1="982.30" x2="307.90" y2="989.80" stroke="#111" stroke-width="2.2"/>
<line x1="334.20" y1="982.30" x2="334.20" y2="989.80" stroke="#111" stroke-width="2.2"/>
<line x1="360.50" y1="982.30" x2="360.50" y2="989.80" stroke="#111" stroke-width="2.2"/>
<line x1="386.80" y1="982.30" x2="386.80" y2="989.80" stroke="#111" stroke-width="2.2"/>
<line x1="413.10" y1="982.30" x2="413.10" y2="989.80" stroke="#111" stroke-width="2.2"/>
<line x1="439.40" y1="982.30" x2="439.40" y2="989.80" stroke="#111" stroke-width="2.2"/>
<line x1="465.70" y1="982.30" x2="465.70" y2="989.80" stroke="#111" stroke-width="2.2"/>
<line x1="492.00" y1="982.30" x2="492.00" y2="989.80" stroke="#111" stroke-width="2.2"/>
<path d="M211.50,805.74 V982.30 H511.00" fill="none" stroke="#111" stroke-width="2.5" stroke-linecap="butt" stroke-linejoin="miter"/>
<line x1="212.7" y1="894.6" x2="512.7" y2="894.6" stroke="#111" stroke-width="2" stroke-dasharray="3,2.3"/>
<line x1="217.30" y1="996.20" x2="344.50" y2="996.20" stroke="#111" stroke-width="2.5"/>
<line x1="379.80" y1="996.60" x2="506.50" y2="996.60" stroke="#111" stroke-width="2.5"/>
<text x="385.20" y="832.40" font-size="14.5" font-weight="bold" text-anchor="middle" fill="#111">*</text>
<text x="412.80" y="832.40" font-size="14.5" font-weight="bold" text-anchor="middle" fill="#111">*</text>
<text x="248.06" y="1013.90" font-size="15.7" font-weight="normal" fill="#111" textLength="67.23" lengthAdjust="spacingAndGlyphs">1 Months</text>
<text x="407.14" y="1013.90" font-size="15.7" font-weight="normal" fill="#111" textLength="69.26" lengthAdjust="spacingAndGlyphs">6 Months</text>
<text x="266.52" y="1037.10" font-size="15.6" font-weight="bold" fill="#111" textLength="191.39" lengthAdjust="spacingAndGlyphs">Time of Diet Intervention</text>
<text transform="translate(165.40,927.21) rotate(-90)" font-size="14" font-weight="bold" fill="#111" textLength="65.52" lengthAdjust="spacingAndGlyphs">Score (%)</text>
<text x="224.92" y="817.50" font-size="14.8" font-weight="bold" fill="#111" textLength="6.82" lengthAdjust="spacingAndGlyphs" stroke="#111" stroke-width="0.45">J</text>
<line x1="42.10" y1="1221.80" x2="49.10" y2="1221.80" stroke="#111" stroke-width="1.7"/>
<text x="40.45" y="1225.19" font-size="9.7" font-weight="bold" text-anchor="end" fill="#111" textLength="6.0" lengthAdjust="spacingAndGlyphs">0</text>
<line x1="42.10" y1="1199.58" x2="49.10" y2="1199.58" stroke="#111" stroke-width="1.7"/>
<text x="40.45" y="1202.97" font-size="9.7" font-weight="bold" text-anchor="end" fill="#111" textLength="12.1" lengthAdjust="spacingAndGlyphs">10</text>
<line x1="42.10" y1="1177.37" x2="49.10" y2="1177.37" stroke="#111" stroke-width="1.7"/>
<text x="40.45" y="1180.75" font-size="9.7" font-weight="bold" text-anchor="end" fill="#111" textLength="12.1" lengthAdjust="spacingAndGlyphs">20</text>
<line x1="42.10" y1="1155.15" x2="49.10" y2="1155.15" stroke="#111" stroke-width="1.7"/>
<text x="40.45" y="1158.54" font-size="9.7" font-weight="bold" text-anchor="end" fill="#111" textLength="12.1" lengthAdjust="spacingAndGlyphs">30</text>
<line x1="42.10" y1="1132.93" x2="49.10" y2="1132.93" stroke="#111" stroke-width="1.7"/>
<text x="40.45" y="1136.32" font-size="9.7" font-weight="bold" text-anchor="end" fill="#111" textLength="12.1" lengthAdjust="spacingAndGlyphs">40</text>
<line x1="42.10" y1="1110.72" x2="49.10" y2="1110.72" stroke="#111" stroke-width="1.7"/>
<text x="40.45" y="1114.10" font-size="9.7" font-weight="bold" text-anchor="end" fill="#111" textLength="12.1" lengthAdjust="spacingAndGlyphs">50</text>
<line x1="42.10" y1="1088.50" x2="49.10" y2="1088.50" stroke="#111" stroke-width="1.7"/>
<text x="40.45" y="1091.89" font-size="9.7" font-weight="bold" text-anchor="end" fill="#111" textLength="12.1" lengthAdjust="spacingAndGlyphs">60</text>
<line x1="60.25" y1="1201.20" x2="60.25" y2="1196.60" stroke="#888" stroke-width="1.2"/>
<line x1="56.98" y1="1196.60" x2="63.52" y2="1196.60" stroke="#888" stroke-width="1.2"/>
<rect x="54.45" y="1201.95" width="11.60" height="19.85" fill="#d61e1e" stroke="#333" stroke-width="1.5"/>
<line x1="79.25" y1="1198.40" x2="79.25" y2="1192.30" stroke="#888" stroke-width="1.2"/>
<line x1="75.97" y1="1192.30" x2="82.53" y2="1192.30" stroke="#888" stroke-width="1.2"/>
<rect x="73.45" y="1199.15" width="11.60" height="22.65" fill="#e8de6e" stroke="#333" stroke-width="1.5"/>
<line x1="98.25" y1="1189.60" x2="98.25" y2="1180.30" stroke="#888" stroke-width="1.2"/>
<line x1="94.88" y1="1180.30" x2="101.62" y2="1180.30" stroke="#888" stroke-width="1.2"/>
<rect x="92.25" y="1190.35" width="12.00" height="31.45" fill="#036e03" stroke="#333" stroke-width="1.5"/>
<line x1="117.05" y1="1198.40" x2="117.05" y2="1190.70" stroke="#888" stroke-width="1.2"/>
<line x1="113.78" y1="1190.70" x2="120.32" y2="1190.70" stroke="#888" stroke-width="1.2"/>
<rect x="111.25" y="1199.15" width="11.60" height="22.65" fill="#ffbcbc" stroke="#333" stroke-width="1.5"/>
<line x1="135.95" y1="1200.50" x2="135.95" y2="1196.20" stroke="#888" stroke-width="1.2"/>
<line x1="132.67" y1="1196.20" x2="139.22" y2="1196.20" stroke="#888" stroke-width="1.2"/>
<rect x="130.15" y="1201.25" width="11.60" height="20.55" fill="#64bbf8" stroke="#333" stroke-width="1.5"/>
<line x1="174.00" y1="1193.00" x2="174.00" y2="1181.60" stroke="#888" stroke-width="1.2"/>
<line x1="170.75" y1="1181.60" x2="177.25" y2="1181.60" stroke="#888" stroke-width="1.2"/>
<rect x="168.25" y="1193.75" width="11.50" height="28.05" fill="#d61e1e" stroke="#333" stroke-width="1.5"/>
<line x1="192.95" y1="1195.80" x2="192.95" y2="1186.40" stroke="#888" stroke-width="1.2"/>
<line x1="189.67" y1="1186.40" x2="196.22" y2="1186.40" stroke="#888" stroke-width="1.2"/>
<rect x="187.15" y="1196.55" width="11.60" height="25.25" fill="#e8de6e" stroke="#333" stroke-width="1.5"/>
<line x1="211.75" y1="1205.20" x2="211.75" y2="1201.70" stroke="#888" stroke-width="1.2"/>
<line x1="208.47" y1="1201.70" x2="215.03" y2="1201.70" stroke="#888" stroke-width="1.2"/>
<rect x="205.95" y="1205.95" width="11.60" height="15.85" fill="#036e03" stroke="#333" stroke-width="1.5"/>
<line x1="230.75" y1="1212.60" x2="230.75" y2="1211.20" stroke="#888" stroke-width="1.2"/>
<line x1="227.47" y1="1211.20" x2="234.03" y2="1211.20" stroke="#888" stroke-width="1.2"/>
<rect x="224.95" y="1213.35" width="11.60" height="8.45" fill="#ffbcbc" stroke="#333" stroke-width="1.5"/>
<line x1="249.75" y1="1208.90" x2="249.75" y2="1207.20" stroke="#888" stroke-width="1.2"/>
<line x1="246.47" y1="1207.20" x2="253.03" y2="1207.20" stroke="#888" stroke-width="1.2"/>
<rect x="243.95" y="1209.65" width="11.60" height="12.15" fill="#64bbf8" stroke="#333" stroke-width="1.5"/>
<line x1="60.30" y1="1221.80" x2="60.30" y2="1227.30" stroke="#111" stroke-width="1.8"/>
<line x1="79.25" y1="1221.80" x2="79.25" y2="1227.30" stroke="#111" stroke-width="1.8"/>
<line x1="98.20" y1="1221.80" x2="98.20" y2="1227.30" stroke="#111" stroke-width="1.8"/>
<line x1="117.15" y1="1221.80" x2="117.15" y2="1227.30" stroke="#111" stroke-width="1.8"/>
<line x1="136.10" y1="1221.80" x2="136.10" y2="1227.30" stroke="#111" stroke-width="1.8"/>
<line x1="155.05" y1="1221.80" x2="155.05" y2="1227.30" stroke="#111" stroke-width="1.8"/>
<line x1="174.00" y1="1221.80" x2="174.00" y2="1227.30" stroke="#111" stroke-width="1.8"/>
<line x1="192.95" y1="1221.80" x2="192.95" y2="1227.30" stroke="#111" stroke-width="1.8"/>
<line x1="211.90" y1="1221.80" x2="211.90" y2="1227.30" stroke="#111" stroke-width="1.8"/>
<line x1="230.85" y1="1221.80" x2="230.85" y2="1227.30" stroke="#111" stroke-width="1.8"/>
<line x1="249.80" y1="1221.80" x2="249.80" y2="1227.30" stroke="#111" stroke-width="1.8"/>
<path d="M48.10,1087.65 V1221.80 H263.50" fill="none" stroke="#111" stroke-width="2" stroke-linecap="butt" stroke-linejoin="miter"/>
<line x1="49" y1="1133.2" x2="264" y2="1133.2" stroke="#111" stroke-width="1.6" stroke-dasharray="2,1.6"/>
<line x1="52.20" y1="1233.90" x2="143.80" y2="1233.90" stroke="#111" stroke-width="1.8"/>
<line x1="168.50" y1="1234.00" x2="260.20" y2="1234.00" stroke="#111" stroke-width="1.8"/>
<text x="73.99" y="1247.60" font-size="11.2" font-weight="normal" fill="#111" textLength="49.14" lengthAdjust="spacingAndGlyphs">1 Months</text>
<text x="189.09" y="1247.80" font-size="11.2" font-weight="normal" fill="#111" textLength="49.24" lengthAdjust="spacingAndGlyphs">6 Months</text>
<text x="88.27" y="1263.70" font-size="11.2" font-weight="bold" fill="#111" textLength="136.65" lengthAdjust="spacingAndGlyphs">Time of Diet Intervention</text>
<text transform="translate(20.60,1234.21) rotate(-90)" font-size="12" font-weight="bold" fill="#111" textLength="158.35" lengthAdjust="spacingAndGlyphs">Sample Choice Latencies (sec)</text>
<text x="60.67" y="1095.40" font-size="17.7" font-weight="bold" fill="#111" textLength="12.19" lengthAdjust="spacingAndGlyphs" stroke="#111" stroke-width="0.45">K</text>
<line x1="317.30" y1="1221.80" x2="324.30" y2="1221.80" stroke="#111" stroke-width="1.7"/>
<text x="316.85" y="1225.29" font-size="10" font-weight="bold" text-anchor="end" fill="#111" textLength="6.1" lengthAdjust="spacingAndGlyphs">0</text>
<line x1="317.30" y1="1194.92" x2="324.30" y2="1194.92" stroke="#111" stroke-width="1.7"/>
<text x="316.85" y="1198.41" font-size="10" font-weight="bold" text-anchor="end" fill="#111" textLength="12.2" lengthAdjust="spacingAndGlyphs">20</text>
<line x1="317.30" y1="1168.04" x2="324.30" y2="1168.04" stroke="#111" stroke-width="1.7"/>
<text x="316.85" y="1171.53" font-size="10" font-weight="bold" text-anchor="end" fill="#111" textLength="12.2" lengthAdjust="spacingAndGlyphs">40</text>
<line x1="317.30" y1="1141.16" x2="324.30" y2="1141.16" stroke="#111" stroke-width="1.7"/>
<text x="316.85" y="1144.65" font-size="10" font-weight="bold" text-anchor="end" fill="#111" textLength="12.2" lengthAdjust="spacingAndGlyphs">60</text>
<line x1="317.30" y1="1114.28" x2="324.30" y2="1114.28" stroke="#111" stroke-width="1.7"/>
<text x="316.85" y="1117.77" font-size="10" font-weight="bold" text-anchor="end" fill="#111" textLength="12.2" lengthAdjust="spacingAndGlyphs">80</text>
<line x1="317.30" y1="1087.40" x2="324.30" y2="1087.40" stroke="#111" stroke-width="1.7"/>
<text x="316.85" y="1090.89" font-size="10" font-weight="bold" text-anchor="end" fill="#111" textLength="18.4" lengthAdjust="spacingAndGlyphs">100</text>
<line x1="335.85" y1="1155.30" x2="335.85" y2="1145.50" stroke="#888" stroke-width="1.2"/>
<line x1="332.62" y1="1145.50" x2="339.08" y2="1145.50" stroke="#888" stroke-width="1.2"/>
<rect x="330.15" y="1156.05" width="11.40" height="65.75" fill="#d61e1e" stroke="#444" stroke-width="1.5"/>
<line x1="354.70" y1="1165.10" x2="354.70" y2="1155.30" stroke="#888" stroke-width="1.2"/>
<line x1="351.55" y1="1155.30" x2="357.85" y2="1155.30" stroke="#888" stroke-width="1.2"/>
<rect x="349.15" y="1165.85" width="11.10" height="55.95" fill="#fff67e" stroke="#444" stroke-width="1.5"/>
<line x1="373.25" y1="1167.30" x2="373.25" y2="1155.30" stroke="#888" stroke-width="1.2"/>
<line x1="370.07" y1="1155.30" x2="376.43" y2="1155.30" stroke="#888" stroke-width="1.2"/>
<rect x="367.65" y="1168.05" width="11.20" height="53.75" fill="#036e03" stroke="#444" stroke-width="1.5"/>
<line x1="391.80" y1="1170.50" x2="391.80" y2="1161.80" stroke="#888" stroke-width="1.2"/>
<line x1="388.65" y1="1161.80" x2="394.95" y2="1161.80" stroke="#888" stroke-width="1.2"/>
<rect x="386.25" y="1171.25" width="11.10" height="50.55" fill="#ffbcbc" stroke="#444" stroke-width="1.5"/>
<line x1="410.35" y1="1164.40" x2="410.35" y2="1154.20" stroke="#888" stroke-width="1.2"/>
<line x1="407.18" y1="1154.20" x2="413.53" y2="1154.20" stroke="#888" stroke-width="1.2"/>
<rect x="404.75" y="1165.15" width="11.20" height="56.65" fill="#64bbf8" stroke="#444" stroke-width="1.5"/>
<line x1="447.50" y1="1170.50" x2="447.50" y2="1164.70" stroke="#888" stroke-width="1.2"/>
<line x1="444.35" y1="1164.70" x2="450.65" y2="1164.70" stroke="#888" stroke-width="1.2"/>
<rect x="441.95" y="1171.25" width="11.10" height="50.55" fill="#d61e1e" stroke="#444" stroke-width="1.5"/>
<line x1="466.05" y1="1171.60" x2="466.05" y2="1163.30" stroke="#888" stroke-width="1.2"/>
<line x1="462.87" y1="1163.30" x2="469.22" y2="1163.30" stroke="#888" stroke-width="1.2"/>
<rect x="460.45" y="1172.35" width="11.20" height="49.45" fill="#fff67e" stroke="#444" stroke-width="1.5"/>
<line x1="484.95" y1="1180.40" x2="484.95" y2="1175.30" stroke="#888" stroke-width="1.2"/>
<line x1="481.73" y1="1175.30" x2="488.17" y2="1175.30" stroke="#888" stroke-width="1.2"/>
<rect x="479.25" y="1181.15" width="11.40" height="40.65" fill="#036e03" stroke="#444" stroke-width="1.5"/>
<line x1="503.25" y1="1180.40" x2="503.25" y2="1173.40" stroke="#888" stroke-width="1.2"/>
<line x1="500.12" y1="1173.40" x2="506.38" y2="1173.40" stroke="#888" stroke-width="1.2"/>
<rect x="497.75" y="1181.15" width="11.00" height="40.65" fill="#ffbcbc" stroke="#444" stroke-width="1.5"/>
<line x1="522.00" y1="1178.20" x2="522.00" y2="1166.60" stroke="#888" stroke-width="1.2"/>
<line x1="518.80" y1="1166.60" x2="525.20" y2="1166.60" stroke="#888" stroke-width="1.2"/>
<rect x="516.35" y="1178.95" width="11.30" height="42.85" fill="#64bbf8" stroke="#444" stroke-width="1.5"/>
<line x1="335.90" y1="1221.80" x2="335.90" y2="1227.30" stroke="#111" stroke-width="1.8"/>
<line x1="354.50" y1="1221.80" x2="354.50" y2="1227.30" stroke="#111" stroke-width="1.8"/>
<line x1="373.10" y1="1221.80" x2="373.10" y2="1227.30" stroke="#111" stroke-width="1.8"/>
<line x1="391.70" y1="1221.80" x2="391.70" y2="1227.30" stroke="#111" stroke-width="1.8"/>
<line x1="410.30" y1="1221.80" x2="410.30" y2="1227.30" stroke="#111" stroke-width="1.8"/>
<line x1="428.90" y1="1221.80" x2="428.90" y2="1227.30" stroke="#111" stroke-width="1.8"/>
<line x1="447.50" y1="1221.80" x2="447.50" y2="1227.30" stroke="#111" stroke-width="1.8"/>
<line x1="466.10" y1="1221.80" x2="466.10" y2="1227.30" stroke="#111" stroke-width="1.8"/>
<line x1="484.70" y1="1221.80" x2="484.70" y2="1227.30" stroke="#111" stroke-width="1.8"/>
<line x1="503.30" y1="1221.80" x2="503.30" y2="1227.30" stroke="#111" stroke-width="1.8"/>
<line x1="521.90" y1="1221.80" x2="521.90" y2="1227.30" stroke="#111" stroke-width="1.8"/>
<path d="M323.30,1086.55 V1221.80 H535.20" fill="none" stroke="#111" stroke-width="2" stroke-linecap="butt" stroke-linejoin="miter"/>
<line x1="328.30" y1="1232.10" x2="417.50" y2="1232.10" stroke="#111" stroke-width="1.8"/>
<line x1="442.50" y1="1232.10" x2="532.40" y2="1232.10" stroke="#111" stroke-width="1.8"/>
<text x="349.12" y="1246.20" font-size="11" font-weight="normal" fill="#111" textLength="47.80" lengthAdjust="spacingAndGlyphs">1 Months</text>
<text x="463.42" y="1246.20" font-size="11" font-weight="normal" fill="#111" textLength="46.99" lengthAdjust="spacingAndGlyphs">6 Months</text>
<text x="361.37" y="1263.60" font-size="11" font-weight="bold" fill="#111" textLength="135.85" lengthAdjust="spacingAndGlyphs">Time of Diet Intervention</text>
<text transform="translate(293.30,1226.52) rotate(-90)" font-size="12" font-weight="bold" fill="#111" textLength="145.06" lengthAdjust="spacingAndGlyphs">Total Choice Latencies (sec)</text>
<text x="341.63" y="1095.40" font-size="18" font-weight="bold" fill="#111" textLength="9.76" lengthAdjust="spacingAndGlyphs" stroke="#111" stroke-width="0.45">L</text>
</svg>
</body></html>
